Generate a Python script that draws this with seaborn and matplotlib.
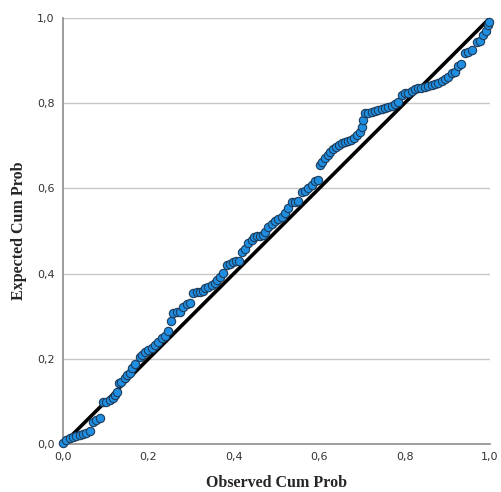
import matplotlib
matplotlib.use("Agg")
import matplotlib.pyplot as plt
import seaborn as sns
import pandas as pd

# observed vs expected cumulative probabilities
observed = [
    0.000, 0.007, 0.016, 0.023, 0.030, 0.040, 0.047, 0.054, 0.063, 0.070,
    0.077, 0.087, 0.094, 0.101, 0.110, 0.117, 0.122, 0.126, 0.131, 0.136,
    0.145, 0.150, 0.157, 0.162, 0.169, 0.180, 0.185, 0.192, 0.199, 0.208,
    0.215, 0.222, 0.232, 0.239, 0.246, 0.253, 0.258, 0.267, 0.274, 0.281,
    0.291, 0.297, 0.304, 0.314, 0.321, 0.328, 0.333, 0.340, 0.349, 0.356,
    0.361, 0.368, 0.375, 0.384, 0.391, 0.398, 0.405, 0.412, 0.419, 0.426,
    0.433, 0.443, 0.447, 0.454, 0.461, 0.468, 0.473, 0.480, 0.489, 0.496,
    0.504, 0.513, 0.520, 0.527, 0.536, 0.543, 0.550, 0.560, 0.567, 0.574,
    0.583, 0.590, 0.597, 0.602, 0.607, 0.614, 0.621, 0.625, 0.632, 0.639,
    0.646, 0.653, 0.660, 0.667, 0.674, 0.681, 0.689, 0.696, 0.700, 0.703,
    0.707, 0.714, 0.724, 0.731, 0.738, 0.747, 0.754, 0.761, 0.770, 0.778,
    0.785, 0.794, 0.801, 0.808, 0.817, 0.824, 0.831, 0.838, 0.848, 0.855,
    0.864, 0.871, 0.878, 0.888, 0.895, 0.902, 0.911, 0.918, 0.925, 0.932,
    0.941, 0.948, 0.958, 0.970, 0.977, 0.984, 0.991, 0.995, 0.998,
]
expected = [
    0.002, 0.009, 0.014, 0.016, 0.019, 0.021, 0.023, 0.026, 0.031, 0.052,
    0.056, 0.061, 0.099, 0.099, 0.103, 0.108, 0.115, 0.122, 0.143, 0.146,
    0.155, 0.162, 0.167, 0.178, 0.188, 0.204, 0.209, 0.216, 0.221, 0.225,
    0.232, 0.239, 0.249, 0.254, 0.265, 0.289, 0.308, 0.310, 0.310, 0.322,
    0.329, 0.331, 0.354, 0.357, 0.357, 0.359, 0.366, 0.369, 0.373, 0.378,
    0.385, 0.392, 0.401, 0.420, 0.423, 0.427, 0.430, 0.430, 0.451, 0.458,
    0.472, 0.479, 0.486, 0.488, 0.488, 0.491, 0.498, 0.509, 0.516, 0.523,
    0.528, 0.533, 0.542, 0.554, 0.568, 0.568, 0.570, 0.592, 0.594, 0.601,
    0.608, 0.617, 0.620, 0.655, 0.662, 0.671, 0.678, 0.685, 0.692, 0.697,
    0.702, 0.707, 0.709, 0.711, 0.714, 0.718, 0.725, 0.732, 0.744, 0.761,
    0.777, 0.777, 0.779, 0.782, 0.784, 0.786, 0.789, 0.791, 0.793, 0.798,
    0.803, 0.819, 0.824, 0.824, 0.829, 0.833, 0.836, 0.836, 0.838, 0.840,
    0.843, 0.845, 0.847, 0.852, 0.857, 0.862, 0.871, 0.873, 0.887, 0.892,
    0.918, 0.920, 0.925, 0.944, 0.946, 0.960, 0.969, 0.984, 0.991,
]
diagonal = [0.0, 1.0]
tick_values = [0.0, 0.2, 0.4, 0.6, 0.8, 1.0]
tick_labels = ["0,0", "0,2", "0,4", "0,6", "0,8", "1,0"]

df = pd.DataFrame({"observed": observed, "expected": expected})

sns.set_style("white")
fig = plt.figure(figsize=(5.01, 4.92), dpi=100)
ax = fig.add_axes([0.126, 0.0976, 0.852, 0.866])

for t in tick_values[1:]:
    ax.axhline(t, color="#c8c8c8", lw=1, zorder=0)

sns.lineplot(x=diagonal, y=diagonal, ax=ax, color="black", lw=2.6, zorder=2)
sns.scatterplot(data=df, x="observed", y="expected", ax=ax, s=36,
                color="#1f8ee0", edgecolor="#1d3b5a", linewidth=0.8,
                zorder=3, clip_on=False)

ax.set_xlim(0, 1)
ax.set_ylim(0, 1)
ax.set_xticks(tick_values)
ax.set_xticklabels(tick_labels)
ax.set_yticks(tick_values)
ax.set_yticklabels(tick_labels)
ax.tick_params(axis="both", length=0, labelsize=8, labelcolor="#333333", pad=6)

for side in ["top", "right"]:
    ax.spines[side].set_visible(False)
for side in ["left", "bottom"]:
    ax.spines[side].set_color("#8c8c8c")
    ax.spines[side].set_linewidth(1.2)

ax.set_xlabel("Observed Cum Prob", fontfamily="Liberation Serif",
              fontweight="bold", fontsize=11.5, labelpad=9)
ax.set_ylabel("Expected Cum Prob", fontfamily="Liberation Serif",
              fontweight="bold", fontsize=11.5, labelpad=7)

fig.savefig("out.png", dpi=100)
